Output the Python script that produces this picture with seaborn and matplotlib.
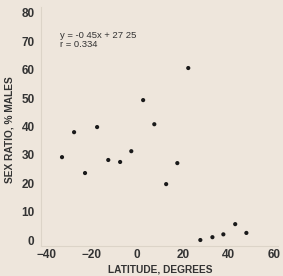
import matplotlib
matplotlib.use("Agg")
import matplotlib.pyplot as plt
import seaborn as sns
import pandas as pd

# latitude (degrees) vs sex ratio (% males)
latitude = [-33, -27.7, -22.9, -17.6, -12.7, -7.5, -2.6, 2.6, 7.5, 12.7, 17.6, 22.4,
            27.7, 33, 37.8, 43, 47.9]
sex_ratio = [29.2, 38, 23.6, 39.8, 28.2, 27.5, 31.3, 49.3, 40.8, 19.7, 27.1, 60.6,
             0, 1, 2, 5.6, 2.5]
x_ticks = [-40, -20, 0, 20, 40, 60]
y_ticks = [0, 10, 20, 30, 40, 50, 60, 70, 80]

df = pd.DataFrame({"lat": latitude, "ratio": sex_ratio})

bg = "#eee6dc"
sns.set_style("white")
plt.rcParams["font.family"] = ["Liberation Sans", "DejaVu Sans"]

W, H = 283, 276
fig = plt.figure(figsize=(2.83, 2.76), dpi=100, facecolor=bg)
ax = fig.add_axes([41.5 / W, (H - 245.7) / H, 237 / W, 238.4 / H])
ax.set_facecolor(bg)

sns.scatterplot(data=df, x="lat", y="ratio", ax=ax, color="#1a1a1a", s=9,
                edgecolor="none", legend=False)

ax.set_xlim(-42, 62)
ax.set_ylim(-2, 82)
ax.set_xticks(x_ticks)
ax.set_yticks(y_ticks)
ax.tick_params(axis="both", length=2, width=0.6, color="#d6cec2",
               labelsize=8.5, labelcolor="#333333")
ax.tick_params(axis="x", pad=0.5)
ax.tick_params(axis="y", pad=3)
for lab in ax.get_xticklabels() + ax.get_yticklabels():
    lab.set_fontweight("bold")

for side in ["top", "right"]:
    ax.spines[side].set_visible(False)
for side in ["left", "bottom"]:
    ax.spines[side].set_color("#dcd4c8")
    ax.spines[side].set_linewidth(0.8)

ax.set_xlabel("")
ax.set_ylabel("")
fig.text(160 / W, 1 - 269 / H, "LATITUDE, DEGREES", fontsize=7.3, fontweight="bold",
         color="#333333", ha="center", va="center")
fig.text(10 / W, 1 - 130 / H, "SEX RATIO, % MALES", fontsize=7.3, fontweight="bold",
         color="#333333", ha="center", va="center", rotation=90)

ax.text(-34, 70.5, "y = -0 45x + 27 25\nr = 0.334", fontsize=6.8, color="#333333",
        va="center", ha="left", linespacing=1.0)

fig.savefig("out.png", dpi=100, facecolor=bg)
